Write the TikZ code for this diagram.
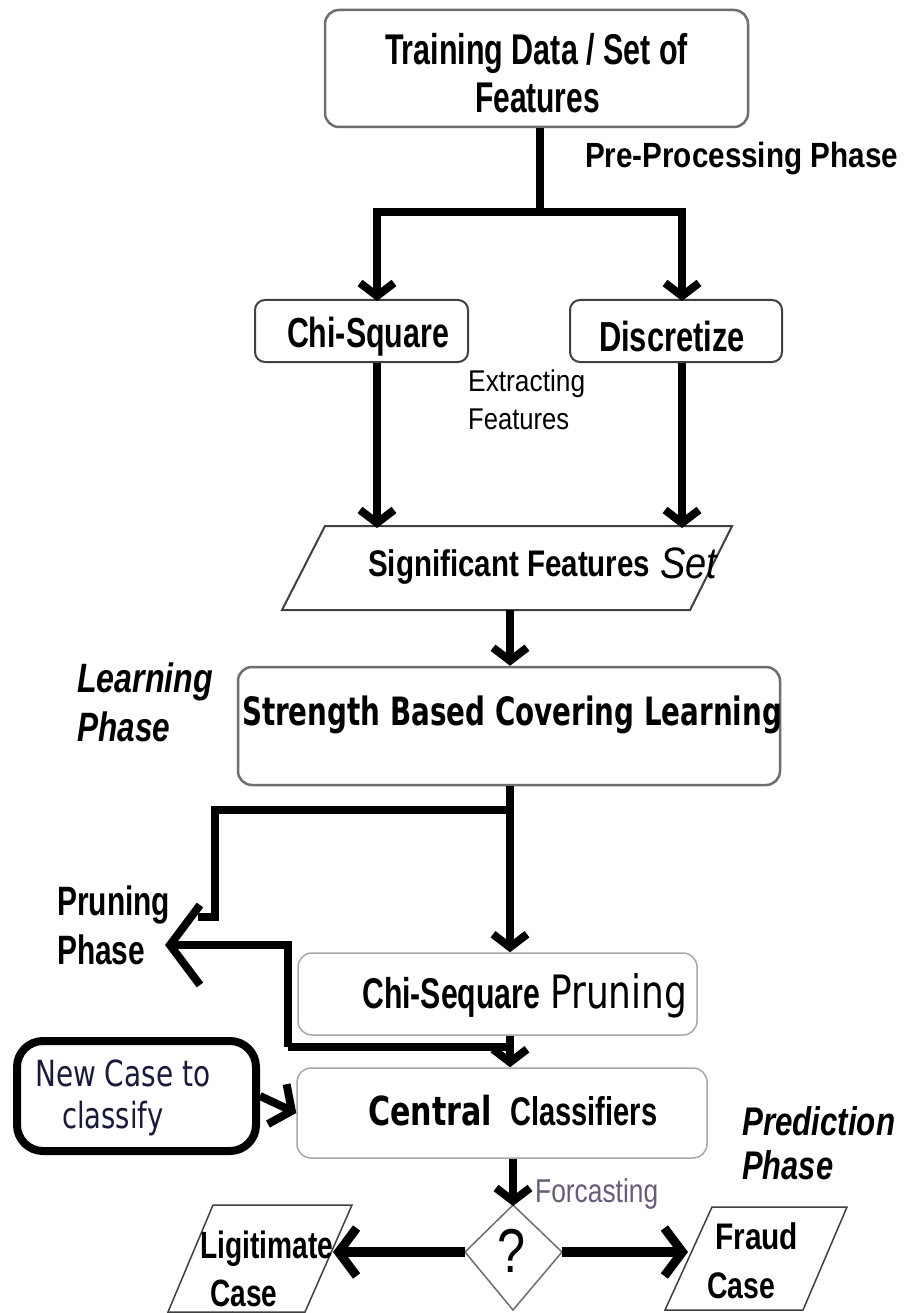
\documentclass[tikz,border=0pt]{standalone}
\usepackage{fontspec}
\setmainfont{Liberation Sans}
\newfontfamily\dvs{DejaVu Sans}
\usepackage{graphicx}
\usetikzlibrary{arrows.meta}
\newcommand\fw[2]{\sbox0{#2}\pgfmathsetmacro\fwr{#1/\the\wd0}\scalebox{\fwr}[1]{\usebox0}}
\newcommand\fs[1]{\fontsize{#1}{#1}\selectfont}
\definecolor{bdA}{HTML}{6E6E6E}
\definecolor{bdB}{HTML}{A8A8A8}
\definecolor{bdC}{HTML}{404040}
\definecolor{navy}{HTML}{1A1A3A}
\definecolor{forc}{HTML}{6A5C78}
\begin{document}
\begin{tikzpicture}[x=1pt,y=-1pt,
  conn/.style={line width=8pt, draw=black},
  tipA/.style={-{Straight Barb[length=13pt,width=34pt,line width=8pt]}},
  tipB/.style={-{Straight Barb[length=30pt,width=80pt,line width=8pt]}},
  tipC/.style={-{Straight Barb[length=16pt,width=44pt,line width=8pt]}},
  tipD/.style={-{Straight Barb[length=18pt,width=48pt,line width=9pt]}},
  txt/.style={inner sep=0pt, anchor=base},
  txtl/.style={inner sep=0pt, anchor=base west},
  box/.style={rounded corners=14pt, inner sep=0pt},
  shp/.style={line join=miter}
]
\useasboundingbox (0,0) rectangle (905,1313);
\fill[white] (0,0) rectangle (905,1313);

% ---------- boxes ----------
\node[box, draw=bdA, line width=2.5pt, minimum width=423pt, minimum height=117pt] (top) at (536.5,68.5) {};
\node[box, draw=bdC, line width=2pt, rounded corners=10pt, minimum width=213pt, minimum height=62pt] (chi) at (361.5,331) {};
\node[box, draw=bdC, line width=2pt, rounded corners=10pt, minimum width=212pt, minimum height=62pt] (disc) at (676,331) {};
\node[box, draw=bdA, line width=2.5pt, minimum width=542pt, minimum height=118pt] (str) at (509,726) {};
\node[box, draw=bdB, line width=1.5pt, minimum width=399pt, minimum height=82pt] (chip) at (497.5,994) {};
\node[box, draw=bdB, line width=1.5pt, minimum width=410pt, minimum height=90pt] (cen) at (502,1113) {};
\node[box, draw=black, line width=8pt, rounded corners=26pt, minimum width=239pt, minimum height=110pt] (newc) at (136.5,1096) {};

% parallelograms and diamond
\draw[shp, draw=bdC, line width=2pt] (325,526) -- (732,526) -- (690,610) -- (282,610) -- cycle;
\draw[shp, draw=bdC, line width=1.5pt] (712,1207) -- (847,1207) -- (803,1310) -- (665,1310) -- cycle;
\draw[shp, draw=bdC, line width=1.5pt] (213,1205) -- (352,1205) -- (305,1312) -- (168,1312) -- cycle;
\draw[shp, draw=bdA, line width=1.5pt] (513,1205) -- (562,1252) -- (513,1310) -- (465,1252) -- cycle;

% ---------- texts ----------
\node[txt, font=\bfseries\fs{43}] (t1) at (536.5,65) {\fw{303}{Training Data / Set of}};
\node[txt, font=\bfseries\fs{43}] (t2) at (537.5,113) {\fw{125}{Features}};
\node[txt, font=\bfseries\fs{35}] (pre) at (741.5,168) {\fw{313}{Pre-Processing Phase}};
\node[txt, font=\bfseries\fs{42}] (chit) at (368,347) {\fw{162}{Chi-Square}};
\node[txt, font=\bfseries\fs{42}] (disct) at (672,351) {\fw{146}{Discretize}};
\node[txtl, font=\fs{30}] (ext1) at (468,391) {\fw{117}{Extracting}};
\node[txtl, font=\fs{30}] (ext2) at (468,429) {\fw{101}{Features}};
\node[txtl, font=\bfseries\fs{37}] (sigt) at (368,576) {\fw{282}{Significant Features}};
\node[txtl, font=\itshape\fs{44}] (sett) at (660,578) {\fw{57}{Set}};
\node[txt, font=\dvs\bfseries\fs{39}] (strt) at (512,725) {\fw{540}{Strength Based Covering Learning}};
\node[txtl, font=\bfseries\itshape\fs{41}] (lp1) at (77,692) {\fw{136}{Learning}};
\node[txtl, font=\bfseries\itshape\fs{41}] (lp2) at (77,741) {\fw{93}{Phase}};
\node[txtl, font=\bfseries\fs{41}] (pp1) at (57,915) {\fw{113}{Pruning}};
\node[txtl, font=\bfseries\fs{41}] (pp2) at (57,964) {\fw{88}{Phase}};
\node[txtl, font=\bfseries\fs{43}] (cst) at (362,1008) {\fw{178}{Chi-Sequare}};
\node[txtl, font=\dvs\fs{46}] (prt) at (550,1008) {\fw{137}{Pruning}};
\node[txtl, font=\dvs\bfseries\fs{40}] (cet) at (368,1125) {\fw{124}{Central}};
\node[txtl, font=\bfseries\fs{40}] (clt) at (510,1125) {\fw{147}{Classifiers}};
\node[txtl, font=\dvs\fs{36}, text=navy] (nc1) at (35,1086) {\fw{175}{New Case to}};
\node[txtl, font=\dvs\fs{36}, text=navy] (nc2) at (62,1128) {\fw{101}{classify}};
\node[txtl, font=\bfseries\itshape\fs{40}] (pr1) at (742,1135) {\fw{153}{Prediction}};
\node[txtl, font=\bfseries\itshape\fs{40}] (pr2) at (742,1179) {\fw{91}{Phase}};
\node[txtl, font=\fs{33}, text=forc] (fct) at (535,1202) {\fw{123}{Forcasting}};
\node[txt, font=\fs{62}] (q) at (511,1272) {\fw{28}{?}};
\node[txtl, font=\bfseries\fs{37}] (fr1) at (715,1249) {\fw{83}{Fraud}};
\node[txtl, font=\bfseries\fs{37}] (fr2) at (707,1298) {\fw{68}{Case}};
\node[txtl, font=\bfseries\fs{38}] (lg1) at (200,1258) {\fw{133}{Ligitimate}};
\node[txtl, font=\bfseries\fs{38}] (lg2) at (210,1306) {\fw{67}{Case}};

% ---------- connector coordinates ----------
\coordinate (j1) at (540,212);
\coordinate (ca) at (377,301);
\coordinate (da) at (682,301);
\coordinate (s1) at (377,528);
\coordinate (s2) at (682,528);
\coordinate (sb) at (510,610);
\coordinate (ja) at (510,810);
\coordinate (jb) at (215,810);
\coordinate (jc) at (215,917);
\coordinate (jd) at (198,917);
\coordinate (ptip) at (165,945);
\coordinate (je) at (288,945);
\coordinate (jf) at (288,1047);
\coordinate (jg) at (510,1047);
\coordinate (dtop) at (513,1206);
\coordinate (dl) at (465,1252);
\coordinate (dr) at (562,1252);
\coordinate (ftip) at (688,1252);
\coordinate (ltip) at (333,1252);

% ---------- connectors ----------
\draw[conn] (top.south -| j1) -- (j1);
\draw[conn, tipA] (j1) -| (ca);
\draw[conn, tipA] (j1) -| (da);
\draw[conn, tipA] (chi.south -| ca) -- (s1);
\draw[conn, tipA] (disc.south -| da) -- (s2);
\draw[conn, tipA] (sb) -- (str.north -| sb);
\draw[conn, tipA] (str.south -| ja) -- (chip.north -| ja);
\draw[conn] (str.south -| ja) -- (ja) -- (jb) -- (jc) -- (jd);
\draw[conn, tipB] (jf) -- (je) -- (ptip);
\draw[conn] (jf) -- (jg);
\draw[conn, tipA] (chip.south -| jg) -- (cen.north -| jg);
\draw[conn, tipC] (newc.east) -- (cen.west);
\draw[conn, tipA] (cen.south -| dtop) -- (dtop);
\draw[conn, line width=10pt, tipD] (dr) -- (ftip);
\draw[conn, line width=10pt, tipD] (dl) -- (ltip);
\end{tikzpicture}
\end{document}
